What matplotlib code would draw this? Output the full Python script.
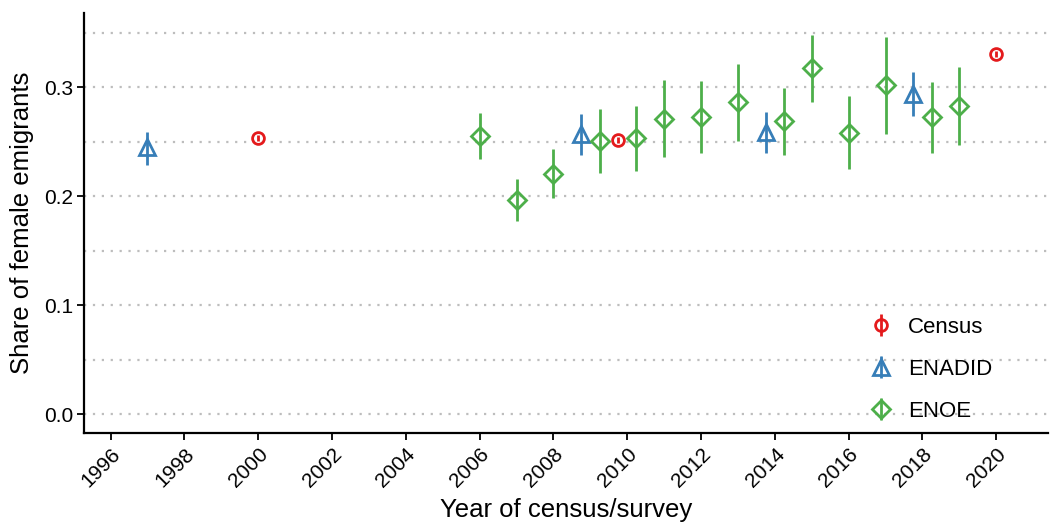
import numpy as np
import matplotlib.pyplot as plt
from matplotlib.ticker import MultipleLocator

plt.rcParams['font.family'] = ['Liberation Sans', 'DejaVu Sans']

# Census
census_year = [2000, 2009.75, 2020]
census_share = [0.2535, 0.2514, 0.3306]
census_lo = [0.2505, 0.2485, 0.3278]
census_hi = [0.2565, 0.2543, 0.3334]

# ENADID
enadid_year = [1997, 2008.75, 2013.75, 2017.75]
enadid_share = [0.245, 0.2575, 0.259, 0.2942]
enadid_lo = [0.229, 0.2379, 0.2401, 0.2737]
enadid_hi = [0.259, 0.2752, 0.2774, 0.314]

# ENOE
enoe_year = [2006, 2007, 2008, 2009.25, 2010.25, 2011, 2012, 2013,
             2014.25, 2015, 2016, 2017, 2018.25, 2019]
enoe_share = [0.255, 0.1963, 0.2208, 0.2508, 0.2535, 0.2713, 0.2725, 0.2862,
              0.2691, 0.3174, 0.2584, 0.3018, 0.2728, 0.2829]
enoe_lo = [0.2337, 0.1768, 0.1979, 0.2217, 0.2232, 0.2358, 0.2394, 0.2508,
           0.2379, 0.2869, 0.2251, 0.2575, 0.2401, 0.2471]
enoe_hi = [0.2764, 0.2159, 0.2431, 0.2798, 0.2832, 0.3064, 0.3055, 0.3214,
           0.2994, 0.348, 0.2917, 0.3461, 0.3052, 0.3183]

series = [
    ('Census', census_year, census_share, census_lo, census_hi, '#E41A1C', 'o', 8.5),
    ('ENADID', enadid_year, enadid_share, enadid_lo, enadid_hi, '#377EB8', '^', 11.5),
    ('ENOE', enoe_year, enoe_share, enoe_lo, enoe_hi, '#4DAF4A', 'D', 9.5),
]

fig = plt.figure(figsize=(10.5, 5.25), dpi=100)
ax = fig.add_axes([0.08, 0.175, 0.918, 0.8])

for name, x, y, lo, hi, col, mk, ms in series:
    y = np.array(y)
    yerr = [y - np.array(lo), np.array(hi) - y]
    ax.errorbar(x, y, yerr=yerr, fmt=mk, color=col, ecolor=col, elinewidth=2,
                markersize=ms, markerfacecolor='none', markeredgewidth=2,
                capsize=0, label=name, zorder=3)

ax.set_xlim(1995.28, 2021.4)
ax.set_ylim(-0.0174, 0.368)
ax.xaxis.set_major_locator(MultipleLocator(2))
ax.yaxis.set_major_locator(MultipleLocator(0.1))
ax.yaxis.set_minor_locator(MultipleLocator(0.05))
ax.yaxis.set_major_formatter(lambda v, p: f'{v:.1f}')
ax.grid(axis='y', which='both', color='#BDBDBD', linestyle=(0, (1, 3)),
        linewidth=1.6, zorder=0)
ax.tick_params(axis='y', which='minor', length=0)
ax.tick_params(axis='both', which='major', labelsize=15, length=5, width=1.3,
               colors='black', pad=3)
plt.setp(ax.get_xticklabels(), rotation=45, ha='right', rotation_mode='anchor')

for s in ['top', 'right']:
    ax.spines[s].set_visible(False)
for s in ['left', 'bottom']:
    ax.spines[s].set_linewidth(1.6)

ax.set_xlabel('Year of census/survey', fontsize=18.5, labelpad=5.5)
ax.set_ylabel('Share of female emigrants', fontsize=18.5, labelpad=7)

ax.legend(loc='center left', bbox_to_anchor=(0.7926, 0.152), frameon=False,
          fontsize=16, handlelength=1.2, handletextpad=0.6, labelspacing=0.95)

fig.savefig('out.png', dpi=100)
